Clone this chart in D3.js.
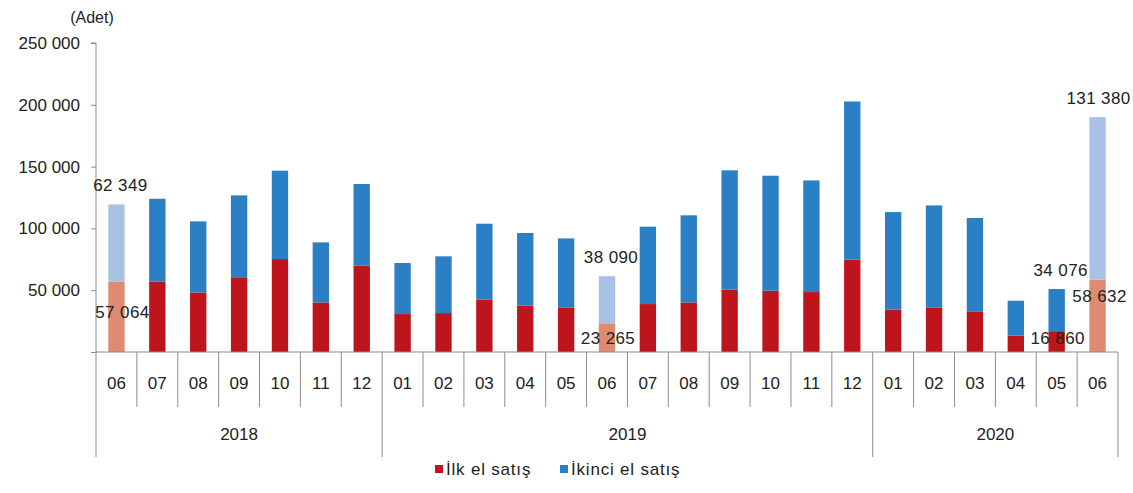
<!DOCTYPE html>
<html>
<head>
<meta charset="utf-8">
<script src="https://cdn.jsdelivr.net/npm/d3@7"></script>
<style>
  body { margin: 0; background: #fff; }
  text { font-family: "Liberation Sans", Arial, sans-serif; fill: #222; }
</style>
</head>
<body>
<div id="chart"></div>
<script>
// months shown on the axis, grouped by year below
var months = ['06', '07', '08', '09', '10', '11', '12',
  '01', '02', '03', '04', '05', '06', '07', '08', '09', '10', '11', '12',
  '01', '02', '03', '04', '05', '06'];
var years = ['2018', '2019', '2020'];
var yearSpans = [7, 12, 6];

// first-hand sales (red) and second-hand sales (blue)
var ilkEl = [57064, 57100, 48200, 59900, 75200, 40100, 69800,
  30700, 31500, 42300, 37500, 36100, 23265, 38800, 40100, 50400, 49600, 48500, 74700,
  34200, 36100, 32900, 13200, 16860, 58632];
var ikinciEl = [62349, 66900, 57500, 66800, 71500, 48600, 66100,
  41300, 45900, 61500, 58800, 55800, 38090, 62600, 70500, 96600, 93000, 90300, 128000,
  79000, 82500, 75500, 28300, 34076, 131380];

// months drawn in the pale colours
var highlighted = [0, 12, 24];
var yTicks = [0, 50000, 100000, 150000, 200000, 250000];

var width = 1133,
  height = 493,
  plotLeft = 96,
  plotRight = 1118,
  plotTop = 43,
  plotBottom = 352;

var svg = d3.select('#chart').append('svg')
  .attr('width', width)
  .attr('height', height);

var idx = d3.range(months.length);

var xCat = d3.scaleBand().domain(idx).range([plotLeft, plotRight]);
var x = d3.scaleBand().domain(idx).range([plotLeft, plotRight])
  .paddingInner(0.6).paddingOuter(0.3);
var y = d3.scaleLinear().domain([0, 250000]).range([plotBottom, plotTop]);

var fmt = function (d) { return d3.format(',')(d).replace(/,/g, ' '); };

var colRed = '#BE141C', colBlue = '#2A7FC5',
  colRedLight = '#DE8B72', colBlueLight = '#A7C2E4';

// y axis
var yAxis = d3.axisLeft(y)
  .tickValues(yTicks)
  .tickSize(5)
  .tickPadding(11)
  .tickFormat(function (d) { return d === 0 ? '' : fmt(d); });

var gy = svg.append('g')
  .attr('transform', 'translate(' + plotLeft + ',0)')
  .call(yAxis);
gy.select('.domain').attr('stroke', '#8c8c8c').attr('d', 'M-5,' + plotTop + 'H0V' + plotBottom);
gy.selectAll('.tick line').attr('stroke', '#8c8c8c');
gy.selectAll('.tick text')
  .style('font-family', '"Liberation Sans", Arial, sans-serif')
  .attr('font-size', 17)
  .attr('fill', '#222');

svg.append('text')
  .attr('x', 92)
  .attr('y', 23)
  .attr('text-anchor', 'middle')
  .attr('font-size', 16)
  .text('(Adet)');

// stacked bars
var isHi = function (i) { return highlighted.indexOf(i) >= 0; };

svg.selectAll('.bar-ilk')
  .data(idx)
  .enter()
  .append('rect')
  .attr('class', 'bar-ilk')
  .attr('x', function (i) { return x(i); })
  .attr('width', x.bandwidth())
  .attr('y', function (i) { return y(ilkEl[i]); })
  .attr('height', function (i) { return y(0) - y(ilkEl[i]); })
  .attr('fill', function (i) { return isHi(i) ? colRedLight : colRed; });

svg.selectAll('.bar-ikinci')
  .data(idx)
  .enter()
  .append('rect')
  .attr('class', 'bar-ikinci')
  .attr('x', function (i) { return x(i); })
  .attr('width', x.bandwidth())
  .attr('y', function (i) { return y(ilkEl[i] + ikinciEl[i]); })
  .attr('height', function (i) { return y(ilkEl[i]) - y(ilkEl[i] + ikinciEl[i]); })
  .attr('fill', function (i) { return isHi(i) ? colBlueLight : colBlue; });

// value labels for the highlighted months and May 2020
var labelled = [0, 12, 23, 24];
svg.selectAll('.lbl-top')
  .data(labelled)
  .enter()
  .append('text')
  .attr('class', 'lbl-top')
  .attr('x', function (i) { return xCat(i) + xCat.bandwidth() / 2 + (i === 24 ? 1 : 4); })
  .attr('y', function (i) { return y(ilkEl[i] + ikinciEl[i]) - 13; })
  .attr('text-anchor', 'middle')
  .attr('font-size', 17)
  .attr('letter-spacing', 0.4)
  .text(function (i) { return fmt(ikinciEl[i]); });

svg.selectAll('.lbl-bot')
  .data(labelled)
  .enter()
  .append('text')
  .attr('class', 'lbl-bot')
  .attr('x', function (i) {
    var c = xCat(i) + xCat.bandwidth() / 2;
    return i === 0 ? c + 6 : (i === 24 ? c + 2 : c + 1);
  })
  .attr('y', function (i) {
    if (i === 0) return y(ilkEl[i]) + 37;
    if (i === 24) return y(ilkEl[i]) + 22;
    return plotBottom - 8;
  })
  .attr('text-anchor', 'middle')
  .attr('font-size', 17)
  .attr('letter-spacing', 0.4)
  .text(function (i) { return fmt(ilkEl[i]); });

// x axis with month and year rows
svg.append('line')
  .attr('x1', plotLeft).attr('x2', plotRight)
  .attr('y1', plotBottom).attr('y2', plotBottom)
  .attr('stroke', '#8c8c8c');

var yearStarts = [0];
yearSpans.forEach(function (n, k) { yearStarts.push(yearStarts[k] + n); });

svg.selectAll('.sep')
  .data(d3.range(months.length + 1))
  .enter()
  .append('line')
  .attr('class', 'sep')
  .attr('x1', function (i) { return plotLeft + i * xCat.step(); })
  .attr('x2', function (i) { return plotLeft + i * xCat.step(); })
  .attr('y1', plotBottom)
  .attr('y2', function (i) { return yearStarts.indexOf(i) >= 0 ? 457 : 407; })
  .attr('stroke', '#8c8c8c');

svg.selectAll('.month')
  .data(idx)
  .enter()
  .append('text')
  .attr('class', 'month')
  .attr('x', function (i) { return xCat(i) + xCat.bandwidth() / 2; })
  .attr('y', 389)
  .attr('text-anchor', 'middle')
  .attr('font-size', 17)
  .text(function (i) { return months[i]; });

svg.selectAll('.year')
  .data(years)
  .enter()
  .append('text')
  .attr('class', 'year')
  .attr('x', function (d, k) {
    return plotLeft + (yearStarts[k] + yearSpans[k] / 2) * xCat.step();
  })
  .attr('y', 440)
  .attr('text-anchor', 'middle')
  .attr('font-size', 17)
  .text(function (d) { return d; });

// legend
var legend = [
  { name: 'İlk el satış', color: colRed, x: 435 },
  { name: 'İkinci el satış', color: colBlue, x: 560 }
];
var lg = svg.selectAll('.legend')
  .data(legend)
  .enter()
  .append('g')
  .attr('class', 'legend')
  .attr('transform', function (d) { return 'translate(' + d.x + ',469)'; });
lg.append('rect')
  .attr('x', 0).attr('y', -4)
  .attr('width', 8).attr('height', 8)
  .attr('fill', function (d) { return d.color; });
lg.append('text')
  .attr('x', 11)
  .attr('y', 6)
  .attr('font-size', 17)
  .attr('letter-spacing', 0.8)
  .text(function (d) { return d.name; });
</script>
</body>
</html>
